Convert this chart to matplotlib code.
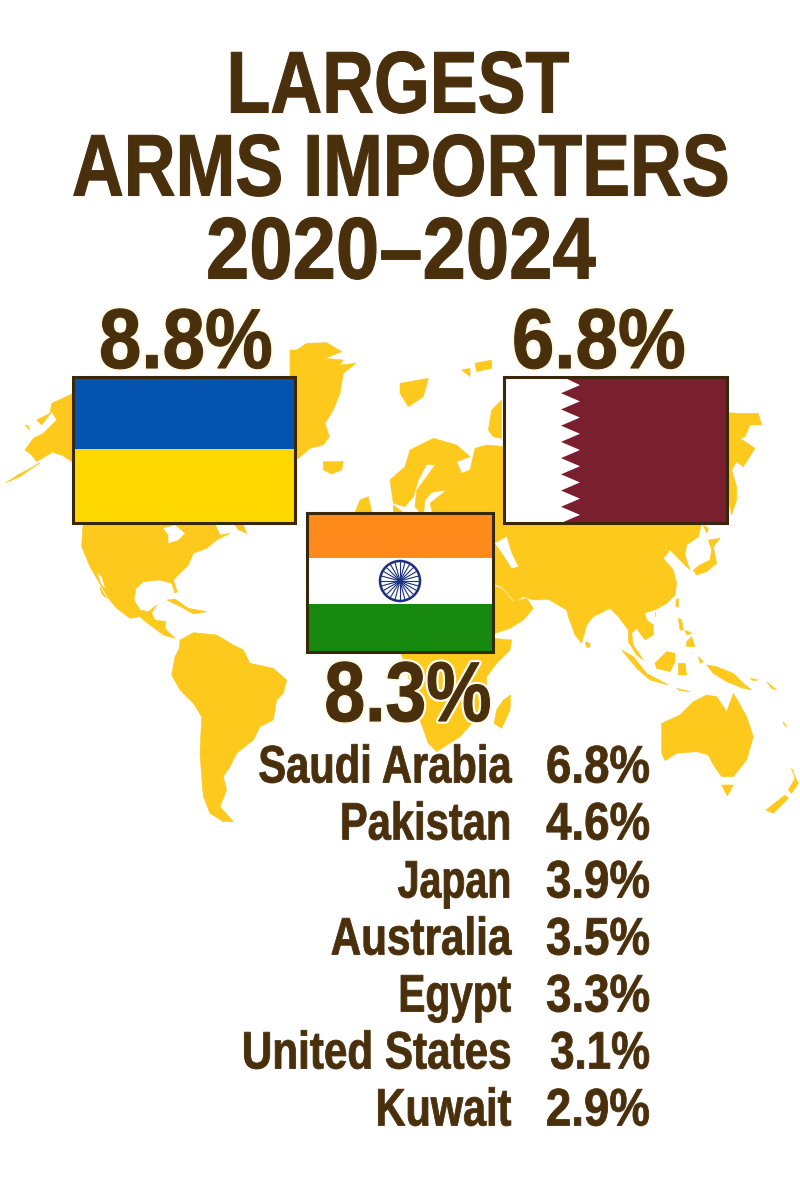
#!/usr/bin/env python3
import numpy as np
import matplotlib
matplotlib.use("Agg")
import matplotlib.pyplot as plt
import matplotlib.patheffects as pe
from matplotlib.patches import Polygon, Rectangle, Circle
from matplotlib.transforms import Affine2D

TITLE_LINES = ["LARGEST", "ARMS IMPORTERS", "2020–2024"]
TOP_COUNTRIES = ["Ukraine", "India", "Qatar"]
TOP_SHARES = [8.8, 8.3, 6.8]
OTHER_COUNTRIES = ["Saudi Arabia", "Pakistan", "Japan", "Australia", "Egypt", "United States", "Kuwait"]
OTHER_SHARES = [6.8, 4.6, 3.9, 3.5, 3.3, 3.1, 2.9]

BROWN = "#4a2f0c"
BORDER = "#3a2608"
MAP_COL = "#fdc91c"
FONT = ["Liberation Sans", "DejaVu Sans"]

# land outlines, traced on 3x crops: each entry is (crop x, crop y, points)
LAND = [
    # americas
    (60, 520, [(70,0),(65,80),(90,140),(110,175),(145,235),(170,265),(210,295),(240,290),(250,300),(310,345),(345,355),
               (330,340),(315,325),(318,305),(285,300),(275,280),(290,255),(265,275),(240,270),(222,240),(228,205),
               (250,185),(300,180),(335,190),(345,220),(352,215),(340,180),(385,135),(400,100),(440,85),(470,60),
               (510,40),(480,45),(460,0)]),
    (60, 520, [(120,200),(140,235),(125,222)]),
    (60, 520, [(525,15),(550,15),(560,40),(535,30)]),
    (60, 520, [(320,240),(345,237),(385,265),(440,275),(400,282),(365,262)]),
    (60, 520, [(360,360),(400,338),(470,345),(520,375),(550,390),(570,430),(640,445),(680,480),(670,520),(650,540),
               (640,600),(600,620),(580,660),(530,700),(510,740),(490,770),(500,810),(480,860),(520,905),(490,905),
               (450,880),(430,830),(425,770),(420,700),(425,590),(400,550),(360,510),(335,465),(345,410),(358,385)]),
    # alaska
    (0, 370, [(220,70),(155,100),(150,130),(110,150),(125,165),(155,125),(170,150),(130,190),(100,205),(75,240),(95,255),
              (110,275),(160,245),(165,250),(185,255),(220,278)]),
    (0, 370, [(120,278),(60,320),(18,338),(58,312),(100,290)]),
    (0, 370, [(75,165),(85,168),(90,182)]),
    # greenland, iceland, arctic islands
    (290, 330, [(0,60),(20,60),(50,40),(110,38),(155,65),(105,85),(160,90),(150,105),(198,100),(160,130),(150,190),
                (130,240),(105,280),(118,320),(100,345),(60,355),(25,385),(10,385),(0,300)]),
    (290, 330, [(100,395),(160,395),(155,420),(125,432),(100,420)]),
    (290, 330, [(330,160),(415,145),(400,200),(355,230),(330,190)]),
    (290, 330, [(515,120),(540,115),(540,140)]),
    (290, 330, [(555,100),(605,90),(605,115),(560,125)]),
    (290, 330, [(635,210),(635,325),(610,320),(595,300),(605,240)]),
    # europe and north russia
    (290, 330, [(300,450),(345,410),(360,360),(430,325),(500,345),(540,380),(500,395),(515,430),(540,420),(555,355),
                (590,345),(650,350),(650,560),(430,560),(420,520),(470,480),(425,487),(405,510),(400,560),(375,530),
                (380,480),(410,440),(435,405),(410,403),(385,450),(370,500),(345,530),(310,520)]),
    (290, 330, [(310,525),(340,548),(310,560)]),
    (290, 330, [(210,510),(235,500),(245,545),(190,560)]),
    # far east behind the qatar flag
    (720, 400, [(15,38),(60,40),(115,40),(125,75),(90,75),(75,110),(60,115),(105,145),(70,200),(50,185),(35,210),(50,260),
                (50,300),(35,345),(25,300),(15,300)]),
    # asia
    (490, 520, [(0,-10),(640,-10),(625,50),(590,75),(585,105),(600,150),(575,125),(540,90),(520,115),(550,150),(560,190),
                (555,225),(530,250),(495,270),(465,280),(470,300),(490,315),(490,345),(465,360),(440,325),(425,340),
                (430,375),(460,420),(440,405),(415,365),(415,330),(385,290),(360,265),(310,290),(290,315),(275,370),
                (255,345),(235,290),(230,270),(175,238),(130,240),(100,230),(75,245),(35,200),(0,190)]),
    (490, 520, [(0,195),(35,205),(70,245),(110,235),(130,265),(100,300),(60,325),(0,345)]),
    (490, 520, [(610,150),(630,135),(660,120),(665,90),(655,60),(690,55),(670,80),(680,130),(650,155),(620,165)]),
    (490, 520, [(640,15),(655,25),(650,40)]),
    (490, 520, [(558,240),(565,235),(565,262),(558,260)]),
    (490, 520, [(490,278),(498,278),(495,292)]),
    (490, 520, [(285,365),(300,370),(300,382),(290,382)]),
    (490, 520, [(565,295),(575,300),(580,330),(570,330)]),
    (490, 520, [(585,330),(605,340),(590,345)]),
    (490, 520, [(590,365),(605,350),(615,380),(590,380)]),
    (490, 520, [(495,430),(530,395),(555,400),(555,425),(540,455),(500,445)]),
    (490, 520, [(565,430),(585,430),(590,465),(565,465)]),
    (490, 520, [(395,390),(430,410),(470,460),(535,495),(480,480),(440,445)]),
    (490, 520, [(650,435),(680,440),(730,460),(760,490),(785,510),(760,505),(710,485),(670,460)]),
    (490, 520, [(560,505),(600,515),(570,512)]),
    (490, 520, [(625,410),(640,425),(630,430)]),
    (490, 520, [(780,475),(805,480),(790,482)]),
    (490, 520, [(830,485),(860,510),(845,505)]),
    (490, 520, [(880,605),(890,620),(882,615)]),
    # australia, tasmania, madagascar, new zealand
    (490, 520, [(515,610),(570,585),(610,545),(650,525),(680,530),(690,545),(710,575),(730,520),(745,545),(770,590),
                (790,650),(770,720),(730,770),(695,770),(670,735),(655,705),(620,695),(560,700),(525,722),(515,700)]),
    (490, 520, [(695,795),(730,795),(712,828)]),
    (490, 520, [(40,540),(62,525),(60,570),(35,625),(12,610),(20,570)]),
    (490, 520, [(905,745),(915,770),(925,790),(905,820),(895,810),(915,775)]),
    (490, 520, [(885,825),(895,835),(850,880),(828,870)]),
    # africa
    (290, 640, [(665,0),(660,30),(620,70),(590,110),(590,150),(555,240),(510,290),(440,335),(415,310),(390,240),(370,170),
                (350,90),(335,45),(335,-20),(440,-20)]),
]

# inland water and gulfs cut back out of the land
WATER = [
    (60, 520, [(310,25),(345,15),(375,40),(355,60),(325,70),(325,45)]),
    (60, 520, [(112,160),(125,170),(135,205),(125,195)]),
    (490, 520, [(15,70),(50,50),(65,100),(85,140),(65,145),(40,105)]),
    (490, 520, [(465,280),(495,270),(495,290),(478,295)]),
    (655, 705, []),
]
WATER = [w for w in WATER if w[2]]


class Squeezed(pe.AbstractPathEffect):
    """Narrows the glyphs about the anchor, no condensed font here."""

    def __init__(self, sx, x0, bold=1.0, halo=0.0):
        super().__init__()
        self.sx, self.x0, self.bold, self.halo = sx, x0, bold, halo

    def draw_path(self, renderer, gc, tpath, affine, rgbFace=None):
        squeeze = Affine2D().translate(-self.x0, 0).scale(self.sx, 1).translate(self.x0, 0)
        a = affine + squeeze
        g = renderer.new_gc()
        g.copy_properties(gc)
        if self.halo:
            g.set_foreground("#fffbe8")
            g.set_linewidth(self.halo)
            renderer.draw_path(g, tpath, a, None)
        g.set_foreground(rgbFace)
        g.set_linewidth(self.bold)
        renderer.draw_path(g, tpath, a, rgbFace)
        g.restore()


def crop_px(ox, oy, points):
    return [(ox + x / 3, oy + y / 3) for x, y in points]


fig = plt.figure(figsize=(8, 12), dpi=100)
ax = fig.add_axes([0, 0, 1, 1])
ax.set_xlim(0, 800)
ax.set_ylim(1200, 0)
ax.axis("off")

for ox, oy, shape in LAND:
    ax.add_patch(Polygon(crop_px(ox, oy, shape), closed=True, facecolor=MAP_COL, edgecolor=MAP_COL, linewidth=0.4, zorder=1))
for ox, oy, shape in WATER:
    ax.add_patch(Polygon(crop_px(ox, oy, shape), closed=True, facecolor="white", edgecolor="none", zorder=1.5))

# ukraine
ax.add_patch(Rectangle((73, 377), 222, 73, facecolor="#0553b1", zorder=2))
ax.add_patch(Rectangle((73, 449), 222, 74, facecolor="#ffd800", zorder=2))
ax.add_patch(Rectangle((73, 377), 222, 146, fill=False, edgecolor=BORDER, linewidth=2.2, zorder=3))

# qatar
ax.add_patch(Rectangle((504, 377), 223, 146, facecolor="#7a1f2e", zorder=2))
n_teeth = 9
tooth_h = 146 / n_teeth
zigzag = [(504, 377), (563, 377)]
for i in range(n_teeth):
    zigzag.append((580, 377 + (i + 0.5) * tooth_h))
    zigzag.append((561, 377 + (i + 1) * tooth_h))
zigzag.append((504, 523))
ax.add_patch(Polygon(zigzag, closed=True, facecolor="white", zorder=2))
ax.add_patch(Rectangle((504, 377), 223, 146, fill=False, edgecolor=BORDER, linewidth=2.2, zorder=3))

# india
ax.add_patch(Rectangle((307, 513), 186, 45, facecolor="#ff8a1c", zorder=2))
ax.add_patch(Rectangle((307, 558), 186, 47, facecolor="white", zorder=2))
ax.add_patch(Rectangle((307, 604), 186, 48, facecolor="#17890f", zorder=2))
ax.add_patch(Rectangle((307, 513), 186, 139, fill=False, edgecolor=BORDER, linewidth=2.2, zorder=3))
ax.add_patch(Circle((400, 581), 20, fill=False, edgecolor="#1c2f7e", linewidth=1.8, zorder=3))
for a in np.linspace(0, 2 * np.pi, 24, endpoint=False):
    ax.plot([400, 400 + 20 * np.cos(a)], [581, 581 + 20 * np.sin(a)], color="#1c2f7e", linewidth=0.8, zorder=3)

# title
title_y = [81, 164, 247]
title_sx = [0.82, 0.82, 0.89]
title_x = [398, 401, 401]
for line, x, y, sx in zip(TITLE_LINES, title_x, title_y, title_sx):
    ax.text(x, y, line, family=FONT, weight="bold", fontsize=63, color=BROWN, ha="center", va="center_baseline",
            zorder=5, path_effects=[Squeezed(sx, x, bold=0.8)])

# top three percentages
top_pos = {"Ukraine": (186, 337), "Qatar": (599, 337), "India": (408, 690)}
top_sx = {"Ukraine": 0.90, "Qatar": 0.90, "India": 0.865}
for name, share in zip(TOP_COUNTRIES, TOP_SHARES):
    x, y = top_pos[name]
    ax.text(x, y, f"{share}%", family=FONT, weight="bold", fontsize=61, color=BROWN, ha="center",
            va="center_baseline", zorder=5, path_effects=[Squeezed(top_sx[name], x, bold=0.8, halo=4)])

# ranking table
row_y = [763, 820, 878, 935, 992, 1049, 1106]
name_sx = [0.79, 0.79, 0.745, 0.80, 0.77, 0.80, 0.785]
value_sx = [0.865, 0.865, 0.865, 0.865, 0.865, 0.83, 0.865]
for name, share, y, nsx, vsx in zip(OTHER_COUNTRIES, OTHER_SHARES, row_y, name_sx, value_sx):
    ax.text(511, y, name, family=FONT, weight="bold", fontsize=38, color=BROWN, ha="right", va="center_baseline",
            zorder=5, path_effects=[Squeezed(nsx, 511, bold=0.6)])
    ax.text(650, y, f"{share}%", family=FONT, weight="bold", fontsize=38, color=BROWN, ha="right", va="center_baseline",
            zorder=5, path_effects=[Squeezed(vsx, 650, bold=0.6)])

fig.savefig("out.png", dpi=100, facecolor="white")
